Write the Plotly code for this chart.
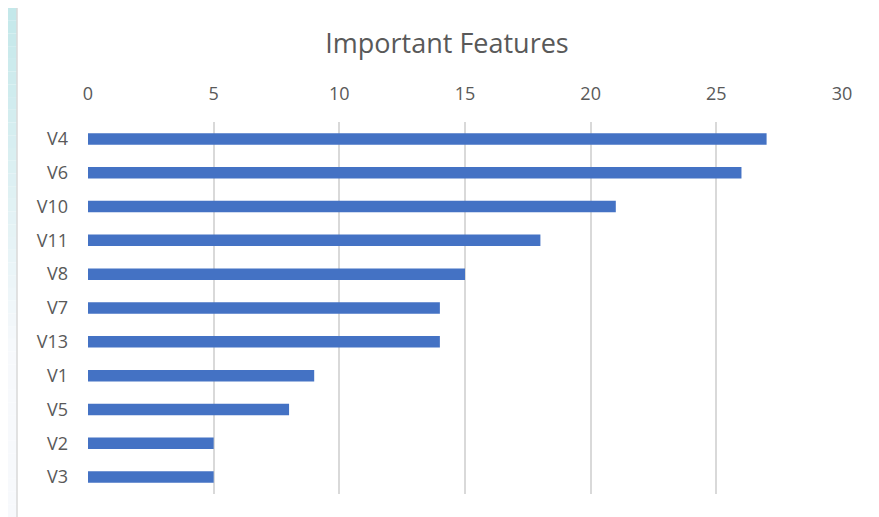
import plotly.graph_objects as go

features = ["V4", "V6", "V10", "V11", "V8", "V7", "V13", "V1", "V5", "V2", "V3"]
importance = [27, 26, 21, 18, 15, 14, 14, 9, 8, 5, 5]
x_ticks = [0, 5, 10, 15, 20, 25, 30]

# page body has an 8px margin, so the figure is laid out 8px smaller
W, H = 871, 509
L, R, T, B = 80, 37, 114, 23
FONT = "Open Sans, Noto Sans, sans-serif"

fig = go.Figure(go.Bar(
    x=importance, y=features, orientation="h",
    marker=dict(color="#4472C4", line=dict(width=0)),
))

pw = W - L - R
ph = H - T - B
def px_x(x):
    return (x - L) / pw
def px_y(y):
    return 1 - (y - T) / ph
def lerp(c1, c2, t):
    return "rgb(%d,%d,%d)" % tuple(round(a + (b - a) * t) for a, b in zip(c1, c2))

top_c = (196, 232, 234)
bot_c = (247, 249, 252)
shapes = []
n = 40
for i in range(n):
    y0p = i * H / n
    y1p = (i + 1) * H / n
    shapes.append(dict(type="rect", xref="paper", yref="paper",
                       x0=px_x(0), x1=px_x(9), y0=px_y(y1p), y1=px_y(y0p),
                       line=dict(width=0), fillcolor=lerp(top_c, bot_c, min(1, (i / n) * 1.5)),
                       layer="below"))
shapes.append(dict(type="rect", xref="paper", yref="paper",
                   x0=px_x(9), x1=px_x(870), y0=px_y(H + 5), y1=px_y(-4),
                   line=dict(color="#d9d9d9", width=1.5), fillcolor="rgba(0,0,0,0)",
                   layer="below"))

fig.update_layout(
    width=W, height=H,
    margin=dict(l=L, r=R, t=T, b=B),
    paper_bgcolor="white", plot_bgcolor="white",
    title=dict(text="Important Features", x=439 / W, xanchor="center", xref="container",
               y=1 - 36 / H, yanchor="middle", yref="container",
               font=dict(family=FONT, size=27, color="#595959")),
    bargap=0.66,
    showlegend=False,
    font=dict(family=FONT, color="#595959"),
    xaxis=dict(side="top", range=[0, 30], tickvals=x_ticks, ticktext=[str(v) for v in x_ticks],
               showgrid=True, gridcolor="#d9d9d9", gridwidth=1.5, zeroline=False,
               showline=False, ticks="", ticklabelstandoff=17,
               tickfont=dict(size=18, color="#595959")),
    yaxis=dict(autorange="reversed", showgrid=False, zeroline=False, showline=False,
               ticks="", ticklabelstandoff=19,
               tickfont=dict(size=18, color="#595959")),
    shapes=shapes,
)

fig.write_html("out.html")
